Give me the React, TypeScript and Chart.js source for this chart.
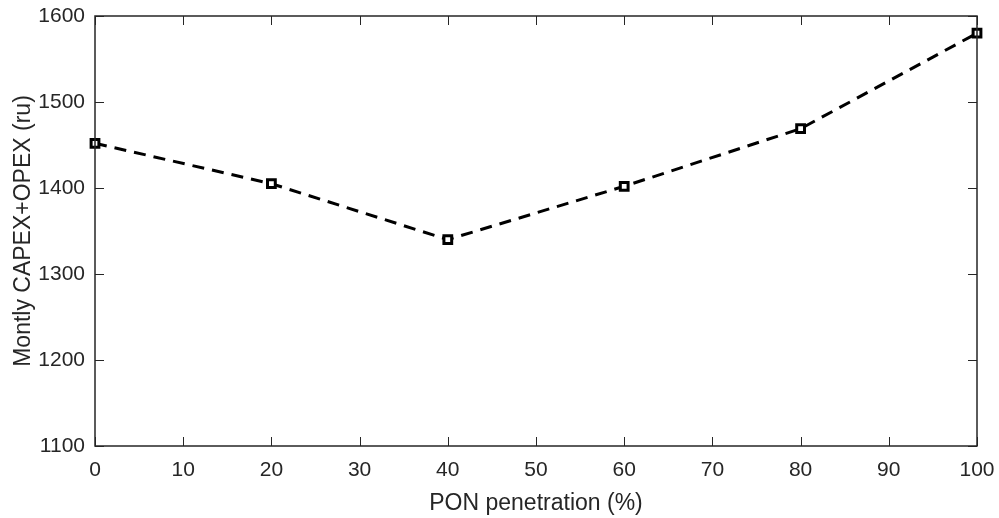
import React, { useEffect, useRef } from "react";
import { Chart, registerables } from "chart.js";

Chart.register(...registerables);

const penetration = [0, 20, 40, 60, 80, 100];
const cost = [1452, 1405, 1340, 1402, 1469, 1580];
const xTicks = [0, 10, 20, 30, 40, 50, 60, 70, 80, 90, 100];
const yTicks = [1100, 1200, 1300, 1400, 1500, 1600];

const FONT = "'Liberation Sans', Arial, Helvetica, sans-serif";
const TXT = "#262626";

const inwardTicks = {
  id: "inwardTicks",
  afterDraw(chart: any) {
    const { ctx, chartArea, scales } = chart;
    const len = 9;
    ctx.save();
    ctx.strokeStyle = TXT;
    ctx.lineWidth = 1;
    ctx.beginPath();
    xTicks.forEach((v) => {
      const x = Math.round(scales.x.getPixelForValue(v)) + 0.5;
      ctx.moveTo(x, chartArea.bottom);
      ctx.lineTo(x, chartArea.bottom - len);
      ctx.moveTo(x, chartArea.top);
      ctx.lineTo(x, chartArea.top + len);
    });
    yTicks.forEach((v) => {
      const y = Math.round(scales.y.getPixelForValue(v)) + 0.5;
      ctx.moveTo(chartArea.left, y);
      ctx.lineTo(chartArea.left + len, y);
      ctx.moveTo(chartArea.right, y);
      ctx.lineTo(chartArea.right - len, y);
    });
    ctx.stroke();
    ctx.lineWidth = 1.5;
    ctx.strokeRect(chartArea.left, chartArea.top, chartArea.right - chartArea.left, chartArea.bottom - chartArea.top);
    ctx.restore();
  },
};

export default function App() {
  const ref = useRef<HTMLCanvasElement>(null);
  useEffect(() => {
    document.body.style.margin = "0";
    const chart = new Chart(ref.current!, {
      type: "line",
      data: {
        datasets: [
          {
            data: penetration.map((x, i) => ({ x, y: cost[i] })),
            borderColor: "#000",
            borderWidth: 3,
            borderDash: [12, 8],
            pointStyle: "rect",
            pointRadius: 5.5,
            pointBorderWidth: 3,
            pointBackgroundColor: "#fff",
            pointBorderColor: "#000",
            tension: 0,
            clip: false as any,
          },
        ],
      },
      options: {
        animation: false,
        responsive: false,
        plugins: { legend: { display: false }, tooltip: { enabled: false } },
        layout: { padding: { left: 0, top: 16, right: 22, bottom: 0 } },
        scales: {
          x: {
            type: "linear",
            min: 0,
            max: 100,
            afterBuildTicks: (s: any) => {
              s.ticks = xTicks.map((v) => ({ value: v }));
            },
            afterFit: (s: any) => {
              s.height = 72;
              s.paddingLeft = 0;
              s.paddingRight = 0;
            },
            grid: { display: false, drawTicks: false },
            border: { display: false },
            ticks: {
              padding: 12,
              color: TXT,
              font: { family: FONT, size: 21 },
              maxRotation: 0,
              callback: (v: any) => String(v),
            },
            title: {
              display: true,
              text: "PON penetration (%)",
              color: TXT,
              font: { family: FONT, size: 23 },
              padding: { top: 0, bottom: 1 },
            },
          },
          y: {
            min: 1100,
            max: 1600,
            afterBuildTicks: (s: any) => {
              s.ticks = yTicks.map((v) => ({ value: v }));
            },
            afterFit: (s: any) => {
              s.width = 95;
              s.paddingTop = 0;
              s.paddingBottom = 0;
            },
            grid: { display: false, drawTicks: false },
            border: { display: false },
            ticks: {
              padding: 10,
              color: TXT,
              font: { family: FONT, size: 21 },
              callback: (v: any) => String(v),
            },
            title: {
              display: true,
              text: "Montly CAPEX+OPEX (ru)",
              color: TXT,
              font: { family: FONT, size: 23 },
              padding: { top: 10, bottom: 0 },
            },
          },
        },
      },
      plugins: [inwardTicks],
    });
    return () => chart.destroy();
  }, []);
  return <canvas ref={ref} width={999} height={518} style={{ display: "block" }} />;
}
